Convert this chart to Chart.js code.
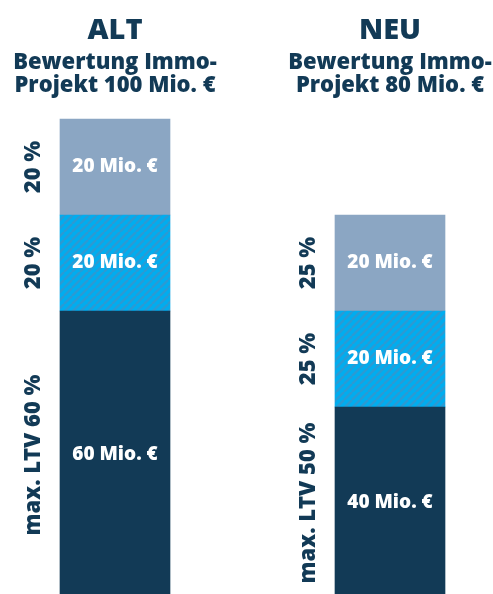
<!DOCTYPE html>
<html>
<head>
<meta charset="utf-8">
<script src="https://cdn.jsdelivr.net/npm/chart.js@4"></script>
<style>
  html, body { margin: 0; padding: 0; background: #fff; overflow: hidden; }
  .wrap { position: relative; width: 493px; height: 599px; }
</style>
</head>
<body>
<div class="wrap"><canvas class="js-ltv-chart"></canvas></div>
<script>
const categories = ["ALT", "NEU"];
const subtitles = [["Bewertung Immo-", "Projekt 100 Mio. €"], ["Bewertung Immo-", "Projekt 80 Mio. €"]];
const ltvValues = [60, 40];
const mezzValues = [20, 20];
const equityValues = [20, 20];
const ltvLabels = ["max. LTV 60 %", "max. LTV 50 %"];
const mezzLabels = ["20 %", "25 %"];
const equityLabels = ["20 %", "25 %"];

const navy = "#123a56";
const font = "'Open Sans', sans-serif";

const makeHatch = () => {
  const c = document.createElement("canvas");
  c.width = 8;
  c.height = 8;
  const ctx = c.getContext("2d");
  ctx.fillStyle = "#00adef";
  ctx.fillRect(0, 0, 8, 8);
  ctx.strokeStyle = "#2b9ad3";
  ctx.lineWidth = 2.5;
  for (let o = -8; o <= 8; o += 8) {
    ctx.beginPath();
    ctx.moveTo(o, 8);
    ctx.lineTo(o + 8, 0);
    ctx.stroke();
  }
  return ctx.createPattern(c, "repeat");
};

const labelsPlugin = {
  id: "ltvLabels",
  afterDatasetsDraw(chart) {
    const ctx = chart.ctx;
    const sideLabels = [ltvLabels, mezzLabels, equityLabels];
    ctx.save();
    chart.data.datasets.forEach((ds, i) => {
      chart.getDatasetMeta(i).data.forEach((bar, j) => {
        const mid = (bar.y + bar.base) / 2;
        ctx.fillStyle = "#fff";
        ctx.font = "800 19px " + font;
        ctx.textAlign = "center";
        ctx.textBaseline = "middle";
        ctx.fillText(ds.data[j] + " Mio. €", bar.x, mid);
        // rotated percentage on the left of the bar
        ctx.save();
        ctx.translate(bar.x - bar.width / 2 - 26, mid);
        ctx.rotate(-Math.PI / 2);
        ctx.fillStyle = navy;
        ctx.font = "800 22px " + font;
        ctx.fillText(sideLabels[i][j], 0, 0);
        ctx.restore();
      });
    });
    // titles above each bar
    const meta = chart.getDatasetMeta(0);
    meta.data.forEach((bar, j) => {
      ctx.fillStyle = navy;
      ctx.textAlign = "center";
      ctx.textBaseline = "alphabetic";
      ctx.font = "800 29px " + font;
      ctx.fillText(categories[j], bar.x, 39);
      ctx.font = "800 22px " + font;
      ctx.fillText(subtitles[j][0], bar.x, 69);
      ctx.fillText(subtitles[j][1], bar.x, 92);
    });
    ctx.restore();
  }
};

const canvas = document.querySelector(".js-ltv-chart");
new Chart(canvas.getContext("2d"), {
  type: "bar",
  data: {
    labels: categories,
    datasets: [
      { data: ltvValues, backgroundColor: navy },
      { data: mezzValues, backgroundColor: makeHatch() },
      { data: equityValues, backgroundColor: "#8ba6c3" }
    ].map(d => ({ ...d, barThickness: 110, clip: false, borderWidth: 0 }))
  },
  options: {
    maintainAspectRatio: false,
    responsive: true,
    animation: false,
    layout: { padding: { top: 119, left: 115, right: 103, bottom: 0 } },
    plugins: { legend: { display: false }, tooltip: { enabled: false } },
    scales: {
      x: { display: false, stacked: true, offset: false },
      y: { display: false, stacked: true, min: 0, max: 100 }
    }
  },
  plugins: [labelsPlugin]
});
</script>
</body>
</html>
